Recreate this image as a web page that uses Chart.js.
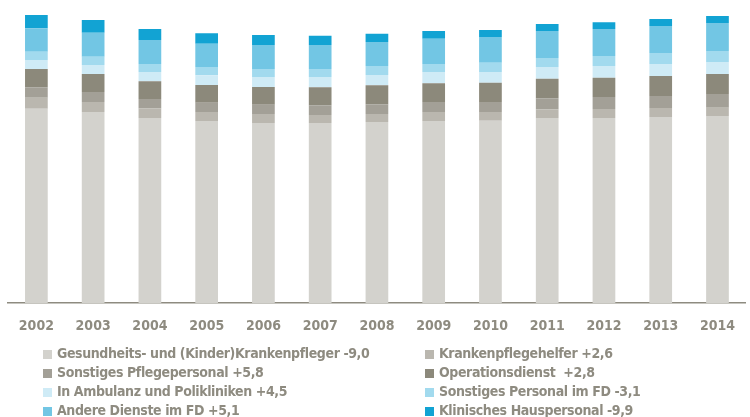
<!DOCTYPE html><html lang="de"><meta charset="utf-8">
<title>Personal im Pflegedienst 2002–2014</title>
<script src="https://cdn.jsdelivr.net/npm/chart.js@4.4.1"></script>
<style>
*{box-sizing:border-box}
body{margin:0;background:#fff;width:750px;height:417px;overflow:hidden;position:relative;font-family:"Liberation Sans Narrow","DejaVu Sans Condensed",sans-serif}
#chart{position:absolute;left:0;top:0}
.leg{position:absolute;font-weight:700;font-size:14px;line-height:19px;color:#8e8b80;white-space:pre;letter-spacing:-0.4px}
.leg i{display:inline-block;width:9px;height:9px;margin-right:5px;vertical-align:-1px}
</style>
<body>
<canvas id="chart" width="750" height="345"></canvas>
<div id="legend"></div>
<script>
const years = ['2002','2003','2004','2005','2006','2007','2008','2009','2010','2011','2012','2013','2014'];

// Werte von unten nach oben gestapelt (aus dem Bild geschätzt)
const gesundheitsKrankenpfleger = [194.3,191,185,182,180,180,181,182,182.3,185,185,186,187];
const krankenpflegehelfer       = [11,10,9.7,9,9,8,8,9,8.7,8.7,9,9,8.3];
const sonstigesPflegepersonal   = [10.4,10,9.3,9.3,9.3,9.7,9.7,10,10,11,12,12,13.7];
const operationsdienst          = [18.3,18,17.7,17.7,17.7,18,19,18.7,19.3,19.6,19.3,20,20];
const ambulanzPolikliniken      = [9,9,9.3,9.7,10,10.3,10.3,11.3,10.7,11.7,11.7,12,12];
const sonstigesPersonalFD       = [8.3,8.3,8,8.3,8,8,9,8,9.3,9,10,11,11];
const andereDiensteFD           = [23.4,24,24,23.3,24,24,24,25.3,25.7,27,27,27,28];
const klinischesHauspersonal    = [13.3,12.7,11,10.4,10,9.3,8.3,7.7,7,7,6.7,7,7];

const series = [
  {label:'Gesundheits- und (Kinder)Krankenpfleger', change:'-9,0', data:gesundheitsKrankenpfleger, color:'#d3d2cd'},
  {label:'Krankenpflegehelfer',                     change:'+2,6', data:krankenpflegehelfer,       color:'#bab7af'},
  {label:'Sonstiges Pflegepersonal',                change:'+5,8', data:sonstigesPflegepersonal,   color:'#a3a097'},
  {label:'Operationsdienst ',                       change:'+2,8', data:operationsdienst,          color:'#8c897b'},
  {label:'In Ambulanz und Polikliniken',            change:'+4,5', data:ambulanzPolikliniken,      color:'#cfebf6'},
  {label:'Sonstiges Personal im FD',                change:'-3,1', data:sonstigesPersonalFD,       color:'#a2daee'},
  {label:'Andere Dienste im FD',                    change:'+5,1', data:andereDiensteFD,           color:'#72c6e4'},
  {label:'Klinisches Hauspersonal',                 change:'-9,9', data:klinischesHauspersonal,    color:'#12a3d3'}
];

const FONT = '"Liberation Sans Narrow","DejaVu Sans Condensed",sans-serif';

new Chart(document.getElementById('chart'),{
  type:'bar',
  data:{labels:years,datasets:series.map(s=>({
    label:s.label,data:s.data,backgroundColor:s.color,borderWidth:0,
    categoryPercentage:0.8,barPercentage:0.5
  }))},
  options:{
    responsive:false,animation:false,
    layout:{padding:{left:8,right:0,top:3,bottom:0}},
    plugins:{legend:{display:false},tooltip:{enabled:false}},
    scales:{
      x:{stacked:true,
         grid:{display:false,drawTicks:false},
         border:{display:true,color:'#8e8b80',width:1.5},
         ticks:{color:'#8e8b80',padding:15,font:{family:FONT,size:14,weight:'bold'}},
         afterFit(s){ s.height = 42; }},
      y:{stacked:true,display:false,min:0,max:300}
    }
  }
});

// Legende: zwei Spalten, zeilenweise
const leg = document.getElementById('legend');
series.forEach((s,i)=>{
  const d = document.createElement('div');
  d.className = 'leg';
  d.style.left = (i%2 ? 425 : 43) + 'px';
  d.style.top  = (344 + Math.floor(i/2)*19) + 'px';
  d.innerHTML = `<i style="background:${s.color}"></i>`;
  d.appendChild(document.createTextNode(s.label + ' ' + s.change));
  leg.appendChild(d);
});
</script>
</body></html>
